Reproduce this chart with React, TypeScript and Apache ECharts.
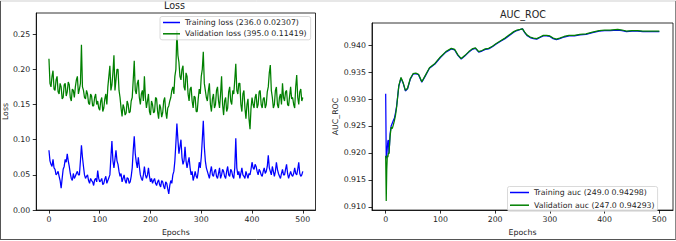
import React, { useEffect, useRef } from "react";
import * as echarts from "echarts";

// sampled every 2 epochs (0..500)
const trainLoss = [
  0.085, 0.07, 0.065, 0.062, 0.072, 0.06, 0.058, 0.05, 0.052, 0.055,
  0.048, 0.042, 0.031, 0.045, 0.058, 0.062, 0.072, 0.068, 0.08, 0.07,
  0.062, 0.052, 0.045, 0.042, 0.052, 0.045, 0.048, 0.052, 0.055, 0.05,
  0.05, 0.07, 0.092, 0.075, 0.062, 0.05, 0.045, 0.048, 0.05, 0.042,
  0.038, 0.045, 0.042, 0.04, 0.035, 0.043, 0.045, 0.04, 0.056, 0.045,
  0.04, 0.042, 0.045, 0.036, 0.038, 0.044, 0.048, 0.038, 0.042, 0.046,
  0.05, 0.075, 0.098, 0.07, 0.06, 0.072, 0.085, 0.07, 0.065, 0.055,
  0.048, 0.052, 0.04, 0.045, 0.05, 0.042, 0.038, 0.046, 0.045, 0.038,
  0.04, 0.048, 0.06, 0.085, 0.105, 0.08, 0.068, 0.06, 0.075, 0.062,
  0.05, 0.045, 0.042, 0.05, 0.062, 0.05, 0.045, 0.05, 0.06, 0.048,
  0.04, 0.045, 0.038, 0.042, 0.045, 0.038, 0.035, 0.04, 0.043, 0.036,
  0.033, 0.042, 0.04, 0.034, 0.03, 0.04, 0.038, 0.03, 0.023, 0.035,
  0.042, 0.038, 0.05, 0.055, 0.07, 0.095, 0.123, 0.1, 0.08, 0.09,
  0.1, 0.075, 0.065, 0.07, 0.09, 0.07, 0.06, 0.068, 0.075, 0.06,
  0.05, 0.055, 0.042, 0.048, 0.055, 0.048, 0.045, 0.055, 0.068, 0.06,
  0.075, 0.1, 0.127, 0.09, 0.07, 0.06, 0.055, 0.05, 0.045, 0.055,
  0.062, 0.05, 0.048, 0.055, 0.058, 0.048, 0.045, 0.052, 0.06, 0.045,
  0.05, 0.058, 0.055, 0.048, 0.045, 0.055, 0.062, 0.05, 0.048, 0.058,
  0.055, 0.048, 0.045, 0.06, 0.102, 0.06, 0.05, 0.055, 0.045, 0.052,
  0.06, 0.05, 0.048, 0.045, 0.055, 0.05, 0.045, 0.052, 0.05, 0.058,
  0.068, 0.06, 0.058, 0.065, 0.062, 0.055, 0.05, 0.058, 0.055, 0.05,
  0.048, 0.055, 0.06, 0.052, 0.055, 0.062, 0.078, 0.06, 0.055, 0.05,
  0.062, 0.055, 0.048, 0.055, 0.068, 0.058, 0.052, 0.048, 0.045, 0.052,
  0.058, 0.05, 0.05, 0.058, 0.065, 0.052, 0.045, 0.05, 0.055, 0.05,
  0.048, 0.052, 0.06, 0.052, 0.05, 0.058, 0.068, 0.052, 0.048, 0.05,
  0.055,
];

const valLoss = [
  0.215, 0.18, 0.175, 0.19, 0.198, 0.172, 0.17, 0.185, 0.19, 0.168,
  0.165, 0.18, 0.175, 0.158, 0.16, 0.178, 0.18, 0.162, 0.168, 0.182,
  0.178, 0.16, 0.155, 0.172, 0.17, 0.16, 0.175, 0.185, 0.19, 0.165,
  0.172, 0.18, 0.235, 0.175, 0.17, 0.16, 0.158, 0.17, 0.165, 0.152,
  0.15, 0.165, 0.162, 0.148, 0.148, 0.16, 0.165, 0.15, 0.155, 0.145,
  0.142, 0.155, 0.16, 0.14, 0.145, 0.158, 0.165, 0.15, 0.175, 0.19,
  0.205, 0.17, 0.178, 0.195, 0.22, 0.17, 0.185, 0.2, 0.2, 0.17,
  0.16, 0.145, 0.133, 0.15, 0.145, 0.135, 0.138, 0.155, 0.15, 0.138,
  0.14, 0.155, 0.16, 0.185, 0.212, 0.17, 0.165, 0.18, 0.185, 0.16,
  0.15, 0.165, 0.17, 0.155, 0.19, 0.16, 0.145, 0.155, 0.165, 0.14,
  0.135, 0.155, 0.15, 0.138, 0.14, 0.16, 0.158, 0.14, 0.13, 0.15,
  0.145, 0.132, 0.138, 0.155, 0.16, 0.14, 0.13, 0.145, 0.148, 0.155,
  0.16, 0.17, 0.175, 0.165, 0.19, 0.2, 0.255, 0.22, 0.21, 0.19,
  0.185, 0.2, 0.205, 0.175, 0.17, 0.195, 0.19, 0.165, 0.155, 0.172,
  0.175, 0.155, 0.145, 0.162, 0.16, 0.14, 0.14, 0.158, 0.172, 0.165,
  0.19, 0.2, 0.225, 0.18, 0.17, 0.16, 0.155, 0.17, 0.18, 0.15,
  0.14, 0.158, 0.165, 0.145, 0.15, 0.17, 0.175, 0.155, 0.145, 0.165,
  0.19, 0.15, 0.135, 0.155, 0.16, 0.14, 0.145, 0.168, 0.175, 0.155,
  0.15, 0.17, 0.165, 0.185, 0.208, 0.17, 0.165, 0.18, 0.18, 0.15,
  0.14, 0.165, 0.17, 0.145, 0.13, 0.15, 0.158, 0.13, 0.115, 0.145,
  0.16, 0.15, 0.145, 0.16, 0.165, 0.145, 0.15, 0.168, 0.17, 0.15,
  0.145, 0.158, 0.16, 0.145, 0.15, 0.168, 0.175, 0.195, 0.206, 0.17,
  0.16, 0.145, 0.15, 0.17, 0.175, 0.15, 0.145, 0.16, 0.165, 0.15,
  0.18, 0.16, 0.155, 0.168, 0.17, 0.15, 0.148, 0.162, 0.175, 0.158,
  0.16, 0.15, 0.145, 0.175, 0.192, 0.16, 0.15, 0.168, 0.172, 0.155,
  0.16,
];

const lossEpochs = trainLoss.map((_, i) => i * 2);

const aucEpochs = [
  0, 1, 2, 3, 4, 5, 6, 7, 8, 10, 12, 14, 16, 18, 20, 24, 28, 32, 36, 40,
  45, 50, 55, 60, 66, 72, 80, 90, 100, 110, 120, 126, 132, 138, 145, 152,
  158, 164, 170, 176, 182, 188, 195, 202, 210, 218, 226, 234, 240, 246,
  250, 254, 258, 264, 270, 276, 282, 288, 294, 300, 306, 312, 318, 326,
  335, 345, 355, 366, 378, 390, 400, 410, 424, 432, 440, 450, 460, 470,
  480, 490, 500,
];

const aucTrain = [
  0.931, 0.919, 0.9195, 0.921, 0.9222, 0.9224, 0.92, 0.9215, 0.9235, 0.925,
  0.9255, 0.926, 0.9265, 0.9275, 0.9287, 0.9324, 0.9339, 0.9329, 0.9315,
  0.9319, 0.9337, 0.9346, 0.9347, 0.9345, 0.9331, 0.9342, 0.9357, 0.9365,
  0.9377, 0.9387, 0.9393, 0.9391, 0.9381, 0.9374, 0.938, 0.9387, 0.9392,
  0.9394, 0.9387, 0.9389, 0.9392, 0.9393, 0.9397, 0.9402, 0.9407, 0.9412,
  0.9418, 0.9424, 0.9427, 0.9429, 0.943, 0.9423, 0.9418, 0.9414, 0.9412,
  0.9411, 0.9414, 0.9417, 0.9417, 0.9416, 0.9412, 0.941, 0.9412, 0.9415,
  0.9417, 0.9417, 0.9419, 0.942, 0.9423, 0.9426, 0.9427, 0.9427, 0.9428,
  0.9427, 0.9425, 0.9426, 0.9426, 0.9425, 0.9425, 0.9425, 0.9425,
];

const aucVal = [
  0.9195, 0.9111, 0.917, 0.9195, 0.9192, 0.92, 0.9198, 0.9215, 0.923,
  0.9248, 0.9245, 0.9252, 0.926, 0.927, 0.9285, 0.9325, 0.934, 0.933,
  0.9316, 0.932, 0.9338, 0.9347, 0.9348, 0.9346, 0.9332, 0.9343, 0.9358,
  0.9366, 0.9378, 0.9388, 0.9394, 0.9392, 0.9382, 0.9375, 0.9381, 0.9388,
  0.9393, 0.9395, 0.9388, 0.939, 0.9393, 0.9394, 0.9398, 0.9403, 0.9408,
  0.9413, 0.9419, 0.9425, 0.9428, 0.9429, 0.943, 0.9424, 0.9419, 0.9415,
  0.9413, 0.9412, 0.9415, 0.9418, 0.9418, 0.9417, 0.9413, 0.9411, 0.9413,
  0.9416, 0.9418, 0.9418, 0.942, 0.9421, 0.9424, 0.9427, 0.9428, 0.9428,
  0.9429, 0.9428, 0.9426, 0.9427, 0.9427, 0.9426, 0.9426, 0.9426, 0.9426,
];

const xTicks = [0, 100, 200, 300, 400, 500];
const lossTicks = [0, 0.05, 0.1, 0.15, 0.2, 0.25];
const aucTicks = [0.91, 0.915, 0.92, 0.925, 0.93, 0.935, 0.94];

const legendLoss = ["Training loss (236.0 0.02307)", "Validation loss (395.0 0.11419)"];
const legendAuc = ["Training auc (249.0 0.94298)", "Validation auc (247.0 0.94293)"];

const FONT = "DejaVu Sans";
const TXT = "#262626";

function xAxis(gridIndex: number) {
  return {
    type: "value",
    gridIndex,
    min: -25,
    max: 525,
    name: "Epochs",
    nameLocation: "middle",
    nameGap: 16,
    nameTextStyle: { fontFamily: FONT, fontSize: 7.8, color: TXT },
    axisLine: { show: true, onZero: false, lineStyle: { color: "#000", width: 0.8 } },
    axisTick: { show: true, length: 3.5, customValues: xTicks, lineStyle: { color: "#000", width: 0.8 } },
    axisLabel: {
      customValues: xTicks,
      margin: 5,
      fontFamily: FONT,
      fontSize: 7.8,
      color: TXT,
      formatter: (v: number) => String(v),
    },
    splitLine: { show: false },
  };
}

function yAxis(gridIndex: number, min: number, max: number, name: string, nameGap: number, ticks: number[], digits: number) {
  return {
    type: "value",
    gridIndex,
    min,
    max,
    name,
    nameLocation: "middle",
    nameGap,
    nameTextStyle: { fontFamily: FONT, fontSize: 7.8, color: TXT },
    axisLine: { show: true, onZero: false, lineStyle: { color: "#000", width: 0.8 } },
    axisTick: { show: true, length: 3.5, customValues: ticks, lineStyle: { color: "#000", width: 0.8 } },
    axisLabel: {
      customValues: ticks,
      margin: 6,
      fontFamily: FONT,
      fontSize: 7.8,
      color: TXT,
      formatter: (v: number) => v.toFixed(digits),
    },
    splitLine: { show: false },
  };
}

function lineSeries(name: string, axis: number, color: string, xs: number[], ys: number[]) {
  return {
    name,
    type: "line",
    xAxisIndex: axis,
    yAxisIndex: axis,
    showSymbol: false,
    symbol: "none",
    color,
    lineStyle: { width: 1.25, color },
    data: xs.map((e, i) => [e, ys[i]]),
  };
}

export default function App() {
  const ref = useRef<HTMLDivElement>(null);
  useEffect(() => {
    document.body.style.margin = "0";
    const chart = echarts.init(ref.current!, undefined, { renderer: "svg" });
    const legendCommon = {
      orient: "vertical",
      icon: "rect",
      itemHeight: 1.5,
      backgroundColor: "rgba(255,255,255,0.8)",
      borderColor: "#d0d0d0",
      borderWidth: 0.8,
      borderRadius: 2,
      textStyle: { fontFamily: FONT, fontSize: 7.8, color: TXT, lineHeight: 10 },
    };
    chart.setOption({
      animation: false,
      backgroundColor: "#fff",
      grid: [
        { left: 34, top: 13, width: 281.5, height: 203.7, show: true, borderColor: "#000", borderWidth: 0.8, containLabel: false },
        { left: 372, top: 23, width: 301, height: 193.7, show: true, borderColor: "#000", borderWidth: 0.8, containLabel: false },
      ],
      xAxis: [xAxis(0), xAxis(1)],
      yAxis: [
        yAxis(0, 0, 0.28, "Loss", 27, lossTicks, 2),
        yAxis(1, 0.9094, 0.9441, "AUC_ROC", 32, aucTicks, 3),
      ],
      legend: [
        {
          ...legendCommon,
          data: legendLoss,
          left: 160,
          top: 16.5,
          itemWidth: 17,
          itemGap: 1.3,
          padding: [1, 4, 1, 3],
        },
        {
          ...legendCommon,
          data: legendAuc,
          left: 507.5,
          top: 186.5,
          itemWidth: 19,
          itemGap: 2.7,
          padding: [1, 3, 1, 2.5],
        },
      ],
      series: [
        lineSeries(legendLoss[0], 0, "#0000ff", lossEpochs, trainLoss),
        lineSeries(legendLoss[1], 0, "#008000", lossEpochs, valLoss),
        lineSeries(legendAuc[0], 1, "#0000ff", aucEpochs, aucTrain),
        lineSeries(legendAuc[1], 1, "#008000", aucEpochs, aucVal),
      ],
      graphic: [
        {
          type: "text",
          x: 174.5,
          y: 5.5,
          style: { text: "Loss", align: "center", verticalAlign: "middle", fontFamily: FONT, fontSize: 9.6, fill: TXT },
        },
        {
          type: "text",
          x: 523,
          y: 14,
          style: { text: "AUC_ROC", align: "center", verticalAlign: "middle", fontFamily: FONT, fontSize: 9.6, fill: TXT },
        },
        { type: "line", shape: { x1: 0, y1: 1, x2: 676, y2: 1 }, style: { stroke: "#cfcfcf", lineWidth: 1 } },
        { type: "line", shape: { x1: 0.5, y1: 1, x2: 0.5, y2: 239.5 }, style: { stroke: "#555", lineWidth: 1 } },
        { type: "line", shape: { x1: 0, y1: 239.5, x2: 676, y2: 239.5 }, style: { stroke: "#555", lineWidth: 1 } },
        { type: "line", shape: { x1: 675.5, y1: 1, x2: 675.5, y2: 239.5 }, style: { stroke: "#888", lineWidth: 1 } },
      ],
    });
    return () => chart.dispose();
  }, []);
  return <div ref={ref} style={{ position: "absolute", left: 0, top: 0, width: 676, height: 241 }} />;
}
